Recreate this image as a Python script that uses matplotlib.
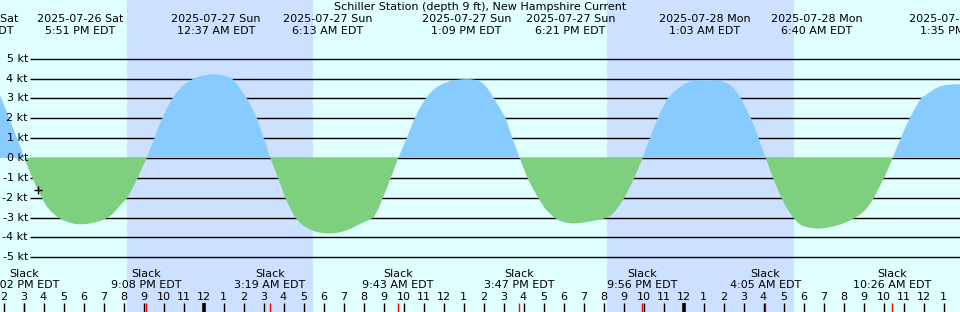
import datetime as dt
import numpy as np
import matplotlib
matplotlib.use("Agg")
import matplotlib.pyplot as plt
from matplotlib.transforms import blended_transform_factory

# ---------------- data ----------------
TITLE = "Schiller Station (depth 9 ft), New Hampshire Current"
BASE = dt.datetime(2025, 7, 27, 0, 0)   # curve hours below are relative to this

# max flood / max ebb events (top labels)
max_times = ["2025-07-26 12:34", "2025-07-26 17:51", "2025-07-27 00:37",
             "2025-07-27 06:13", "2025-07-27 13:09", "2025-07-27 18:21",
             "2025-07-28 01:03", "2025-07-28 06:40", "2025-07-28 13:35"]
# slack events (bottom labels, red ticks)
slack_times = ["2025-07-26 15:02", "2025-07-26 21:08", "2025-07-27 03:19",
               "2025-07-27 09:43", "2025-07-27 15:47", "2025-07-27 21:56",
               "2025-07-28 04:05", "2025-07-28 10:26"]
# night periods (sunset, sunrise)
night_start = ["2025-07-26 20:10", "2025-07-27 20:10"]
night_end = ["2025-07-27 05:28", "2025-07-28 05:31"]

# current speed (hours since 2025-07-27 00:00, knots)
curve_hours = [
    -10.175, -9.925, -9.675, -9.425, -9.175, -8.96,
    -8.775, -8.56, -8.325, -8.09, -7.875, -7.625, -7.26, -6.975, -6.675, -6.375, -6.075,
    -5.775, -5.425, -5.075, -4.76, -4.525, -4.275, -4.025, -3.79, -3.54, -3.29, -3.075, -2.84,
    -2.65, -2.46, -2.26, -2.06, -1.825, -1.56, -1.325, -1.075, -0.825, -0.575, -0.325, -0.025,
    0.275, 0.575, 0.825, 1.075, 1.275, 1.425, 1.6, 1.775, 1.975, 2.175, 2.425, 2.675, 2.84,
    3.01, 3.175, 3.34,
    3.535, 3.725, 3.91, 4.09, 4.325, 4.59, 4.825, 5.075, 5.325, 5.625, 5.925, 6.26, 6.575,
    6.925, 7.225, 7.575, 7.875, 8.175, 8.51, 8.75, 8.975, 9.175, 9.36, 9.55, 9.74,
    9.95, 10.16, 10.36, 10.56, 10.825, 11.11, 11.375, 11.675, 11.975, 12.325, 12.675, 13.025,
    13.325, 13.575, 13.825, 14.025, 14.2, 14.375, 14.525, 14.825, 15.11, 15.275, 15.44,
    15.625, 15.81,
    16.0, 16.19, 16.45, 16.725, 17.075, 17.525, 17.825, 18.125, 18.425, 18.725, 19.025,
    19.325, 19.625, 19.925, 20.21, 20.425, 20.625, 20.825, 21.04, 21.3, 21.54, 21.75, 21.96,
    22.14, 22.325, 22.515, 22.71, 22.95, 23.21, 23.425, 23.625, 23.825, 24.025, 24.275,
    24.575, 25.075, 25.575, 25.875, 26.125, 26.325, 26.475, 26.675, 26.875, 27.125, 27.375,
    27.575, 27.76, 27.925, 28.11,
    28.29, 28.475, 28.675, 28.89, 29.175, 29.475, 29.725, 29.975, 30.325, 30.725, 31.125,
    31.525, 31.875, 32.225, 32.59, 32.825, 33.075, 33.325, 33.525, 33.775, 34.025, 34.25,
    34.46,
    34.66, 34.86, 35.075, 35.31, 35.575, 35.86, 36.225, 36.575, 36.875, 37.225, 37.525,
    37.825]
curve_kt = [
    3.15, 2.55, 1.9, 1.25, 0.62, 0.0,
    -0.48, -1.0, -1.52, -2.0, -2.38, -2.7, -3.0, -3.16, -3.27, -3.33, -3.34,
    -3.32, -3.25, -3.14, -3.0, -2.8, -2.52, -2.24, -2.0, -1.5, -1.0, -0.52, 0.0,
    0.5, 1.0, 1.5, 2.0, 2.5, 3.0, 3.32, 3.6, 3.8, 3.96, 4.07, 4.15,
    4.2, 4.22, 4.19, 4.13, 4.06, 4.0, 3.82, 3.57, 3.28, 3.0, 2.5, 2.0, 1.5,
    1.0, 0.5, 0.0,
    -0.5, -1.0, -1.5, -2.0, -2.52, -3.0, -3.27, -3.47, -3.61, -3.72, -3.78, -3.81, -3.79,
    -3.72, -3.62, -3.46, -3.3, -3.16, -3.0, -2.55, -2.0, -1.5, -1.0, -0.5, 0.0,
    0.5, 1.0, 1.5, 2.0, 2.52, 3.0, 3.32, 3.58, 3.75, 3.87, 3.94, 3.97,
    3.97, 3.94, 3.86, 3.72, 3.5, 3.25, 3.0, 2.5, 2.0, 1.5, 1.0,
    0.5, 0.0,
    -0.5, -1.0, -1.5, -2.0, -2.55, -3.0, -3.17, -3.26, -3.3, -3.29, -3.25,
    -3.2, -3.14, -3.08, -3.0, -2.85, -2.63, -2.35, -2.0, -1.5, -1.0, -0.5, 0.0,
    0.5, 1.0, 1.5, 2.0, 2.5, 3.0, 3.24, 3.41, 3.58, 3.72, 3.84,
    3.9, 3.92, 3.91, 3.87, 3.8, 3.68, 3.56, 3.3, 3.0, 2.5, 2.0,
    1.5, 1.0, 0.5, 0.0,
    -0.5, -1.0, -1.5, -2.0, -2.55, -3.0, -3.28, -3.43, -3.52, -3.56, -3.52,
    -3.44, -3.34, -3.2, -3.0, -2.85, -2.63, -2.33, -2.0, -1.5, -1.0, -0.5,
    0.0,
    0.5, 1.0, 1.5, 2.0, 2.5, 3.0, 3.25, 3.49, 3.62, 3.69, 3.71,
    3.72]

marker_hour, marker_kt = -8.26, -1.6
kt_levels = [5, 4, 3, 2, 1, 0, -1, -2, -3, -4, -5]

# ---------------- style ----------------
W, H = 960, 312
DAY = "#e0ffff"
NIGHT = "#cce0ff"
FLOOD = "#87cbff"
EBB = "#7ecf7e"
FS = 8
plt.rcParams["font.family"] = ["DejaVu Sans"]


def hrs(s):
    t = dt.datetime.strptime(s, "%Y-%m-%d %H:%M")
    return (t - BASE).total_seconds() / 3600.0


def tlabel(s):
    t = dt.datetime.strptime(s, "%Y-%m-%d %H:%M")
    h12 = t.hour % 12 or 12
    ap = "AM" if t.hour < 12 else "PM"
    return f"{h12}:{t.minute:02d} {ap} EDT"


def dlabel(s):
    t = dt.datetime.strptime(s, "%Y-%m-%d %H:%M")
    return t.strftime("%Y-%m-%d %a")


fig = plt.figure(figsize=(W / 100, H / 100), dpi=100)
ax = fig.add_axes([0, 0, 1, 1])
x0, x1 = -10.175, 37.825
ylo, yhi = -7.76, 7.96
ax.set_xlim(x0, x1)
ax.set_ylim(ylo, yhi)
ax.axis("off")
fig.patch.set_facecolor(DAY)
ax.add_patch(plt.Rectangle((x0, ylo), x1 - x0, yhi - ylo, color=DAY, lw=0, zorder=0))

for s, e in zip(night_start, night_end):
    ax.axvspan(hrs(s), hrs(e), color=NIGHT, lw=0, zorder=1)

# grid lines
gx0 = x0 + 30 / 20.0
for k in kt_levels:
    ax.hlines(k, gx0, x1, color="black", lw=1.0, zorder=2)

ch = np.array(curve_hours)
ck = np.array(curve_kt)
ax.fill_between(ch, ck, 0, where=ck >= 0, interpolate=True, color=FLOOD, lw=0, zorder=3)
ax.fill_between(ch, ck, 0, where=ck <= 0, interpolate=True, color=EBB, lw=0, zorder=3)

ax.plot([marker_hour], [marker_kt], marker="+", color="black", ms=6, mew=1.0, zorder=5)

# y labels
tr_y = blended_transform_factory(ax.transAxes, ax.transData)
for k in kt_levels:
    ax.text(28 / W, k, f"{k} kt", transform=tr_y, ha="right", va="center",
            fontsize=FS, zorder=6)

tr = blended_transform_factory(ax.transData, fig.transFigure)


def fy(py):
    return 1 - py / H


ax.text(0.5, fy(7.5), TITLE, transform=fig.transFigure, ha="center", va="center",
        fontsize=FS, zorder=6)

for s in max_times:
    h = hrs(s)
    ax.text(h, fy(19), dlabel(s), transform=tr, ha="center", va="center",
            fontsize=FS, zorder=6, clip_on=False)
    ax.text(h, fy(31.5), tlabel(s), transform=tr, ha="center", va="center",
            fontsize=FS, zorder=6, clip_on=False)

for s in slack_times:
    h = hrs(s)
    ax.text(h, fy(274), "Slack", transform=tr, ha="center", va="center",
            fontsize=FS, zorder=6)
    ax.text(h, fy(285.5), tlabel(s), transform=tr, ha="center", va="center",
            fontsize=FS, zorder=6)
    ax.vlines(h, fy(312), fy(303), transform=tr, color="red", lw=1.0, zorder=6)

for hh in range(int(np.ceil(x0)), int(np.floor(x1)) + 1):
    lab = str((hh % 12) or 12)
    ax.text(hh, fy(297.5), lab, transform=tr, ha="center", va="center",
            fontsize=FS, zorder=6)
    lw = 2.6 if hh % 24 == 0 else 1.0
    ax.vlines(hh, fy(312), fy(303), transform=tr, color="black", lw=lw, zorder=6)

fig.savefig("out.png", dpi=100, facecolor=DAY)
